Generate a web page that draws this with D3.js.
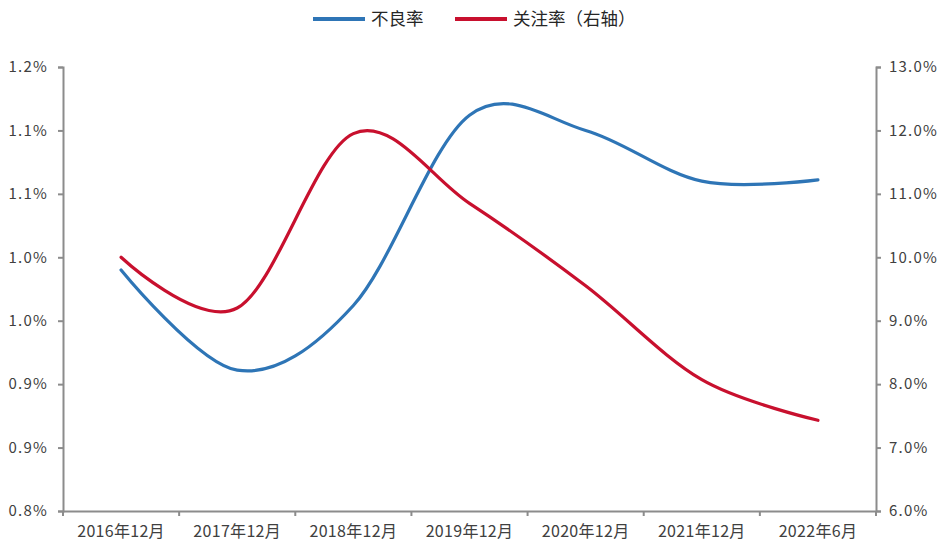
<!DOCTYPE html>
<html>
<head>
<meta charset="utf-8">
<script src="https://cdn.jsdelivr.net/npm/d3@7"></script>
<style>
  body { margin: 0; background: #fff; }
  text { font-family: "Noto Sans CJK SC", "DejaVu Sans", sans-serif; }
</style>
</head>
<body>
<svg id="chart" width="940" height="544"></svg>
<script>
// data
let categories = ["2016年12月", "2017年12月", "2018年12月", "2019年12月", "2020年12月", "2021年12月", "2022年6月"];
let badRate = [0.990, 0.911, 0.962, 1.112, 1.100, 1.060, 1.061];   // 不良率, left axis (%)
let watchRate = [10.0, 9.2, 11.95, 10.85, 9.55, 8.07, 7.43];       // 关注率, right axis (%)
let leftTicks = [0.80, 0.85, 0.90, 0.95, 1.00, 1.05, 1.10, 1.15];
let rightTicks = [6, 7, 8, 9, 10, 11, 12, 13];

let width = 940;
let height = 544;
let margin = { top: 67, right: 64, bottom: 33, left: 63 };

let svg = d3.select("#chart");

let x = d3.scaleBand()
  .domain(categories)
  .range([margin.left, width - margin.right]);

let yLeft = d3.scaleLinear()
  .domain([0.80, 1.15])
  .range([height - margin.bottom, margin.top]);

let yRight = d3.scaleLinear()
  .domain([6, 13])
  .range([height - margin.bottom, margin.top]);

let axisColor = "#8c8c8c";
let textColor = "#404040";

// one decimal, halves rounded up (0.85 -> 0.9)
function pct(d) {
  return (Math.round(d * 10 + 1e-6) / 10).toFixed(1) + "%";
}

// left axis
let gl = svg.append("g")
  .attr("transform", "translate(" + margin.left + ",0)")
  .call(d3.axisLeft(yLeft).tickValues(leftTicks).tickSizeOuter(0).tickSize(5).tickPadding(10)
    .tickFormat(pct));

// right axis
let gr = svg.append("g")
  .attr("transform", "translate(" + (width - margin.right) + ",0)")
  .call(d3.axisRight(yRight).tickValues(rightTicks).tickSizeOuter(0).tickSize(5).tickPadding(8)
    .tickFormat(pct));

// bottom axis, ticks on category boundaries
let gb = svg.append("g")
  .attr("transform", "translate(0," + (height - margin.bottom) + ")")
  .call(d3.axisBottom(x).tickSize(0).tickPadding(15));

let bounds = categories.map(c => x(c)).concat([x.range()[1]]);
gb.selectAll(".bound")
  .data(bounds)
  .enter()
  .append("line")
  .attr("class", "bound")
  .attr("x1", d => d)
  .attr("x2", d => d)
  .attr("y1", 0)
  .attr("y2", 5);

[gl, gr, gb].forEach(function(g) {
  g.selectAll("path, line").attr("stroke", axisColor).attr("stroke-width", 2);
  g.selectAll("text")
    .attr("fill", textColor)
    .style("font-family", "'Noto Sans CJK SC', 'DejaVu Sans', sans-serif");
});
gl.selectAll("text").style("font-size", "15px").style("letter-spacing", "1.2px");
gr.selectAll("text").style("font-size", "15px").style("letter-spacing", "1.2px");
gb.selectAll("text").style("font-size", "16px").style("letter-spacing", "0.3px");

// smooth lines like the spreadsheet
let curve = d3.curveCardinal.tension(0);

let lineLeft = d3.line()
  .x((d, i) => x(categories[i]) + x.bandwidth() / 2)
  .y(d => yLeft(d))
  .curve(curve);

let lineRight = d3.line()
  .x((d, i) => x(categories[i]) + x.bandwidth() / 2)
  .y(d => yRight(d))
  .curve(curve);

let blue = "#2E75B6";
let red = "#C8102E";

svg.append("path")
  .datum(badRate)
  .attr("fill", "none")
  .attr("stroke", blue)
  .attr("stroke-width", 3.2)
  .attr("stroke-linecap", "round")
  .attr("d", lineLeft);

svg.append("path")
  .datum(watchRate)
  .attr("fill", "none")
  .attr("stroke", red)
  .attr("stroke-width", 3.2)
  .attr("stroke-linecap", "round")
  .attr("d", lineRight);

// legend
let legend = [
  { label: "不良率", color: blue, x: 313 },
  { label: "关注率（右轴）", color: red, x: 455 }
];

let lg = svg.append("g").selectAll("g")
  .data(legend)
  .enter()
  .append("g")
  .attr("transform", d => "translate(" + d.x + ",19)");

lg.append("line")
  .attr("x1", 0)
  .attr("x2", 52)
  .attr("stroke", d => d.color)
  .attr("stroke-width", 4);

lg.append("text")
  .attr("x", 58)
  .attr("dy", "0.35em")
  .attr("fill", "#262626")
  .style("font-size", "17.5px")
  .text(d => d.label);
</script>
</body>
</html>
